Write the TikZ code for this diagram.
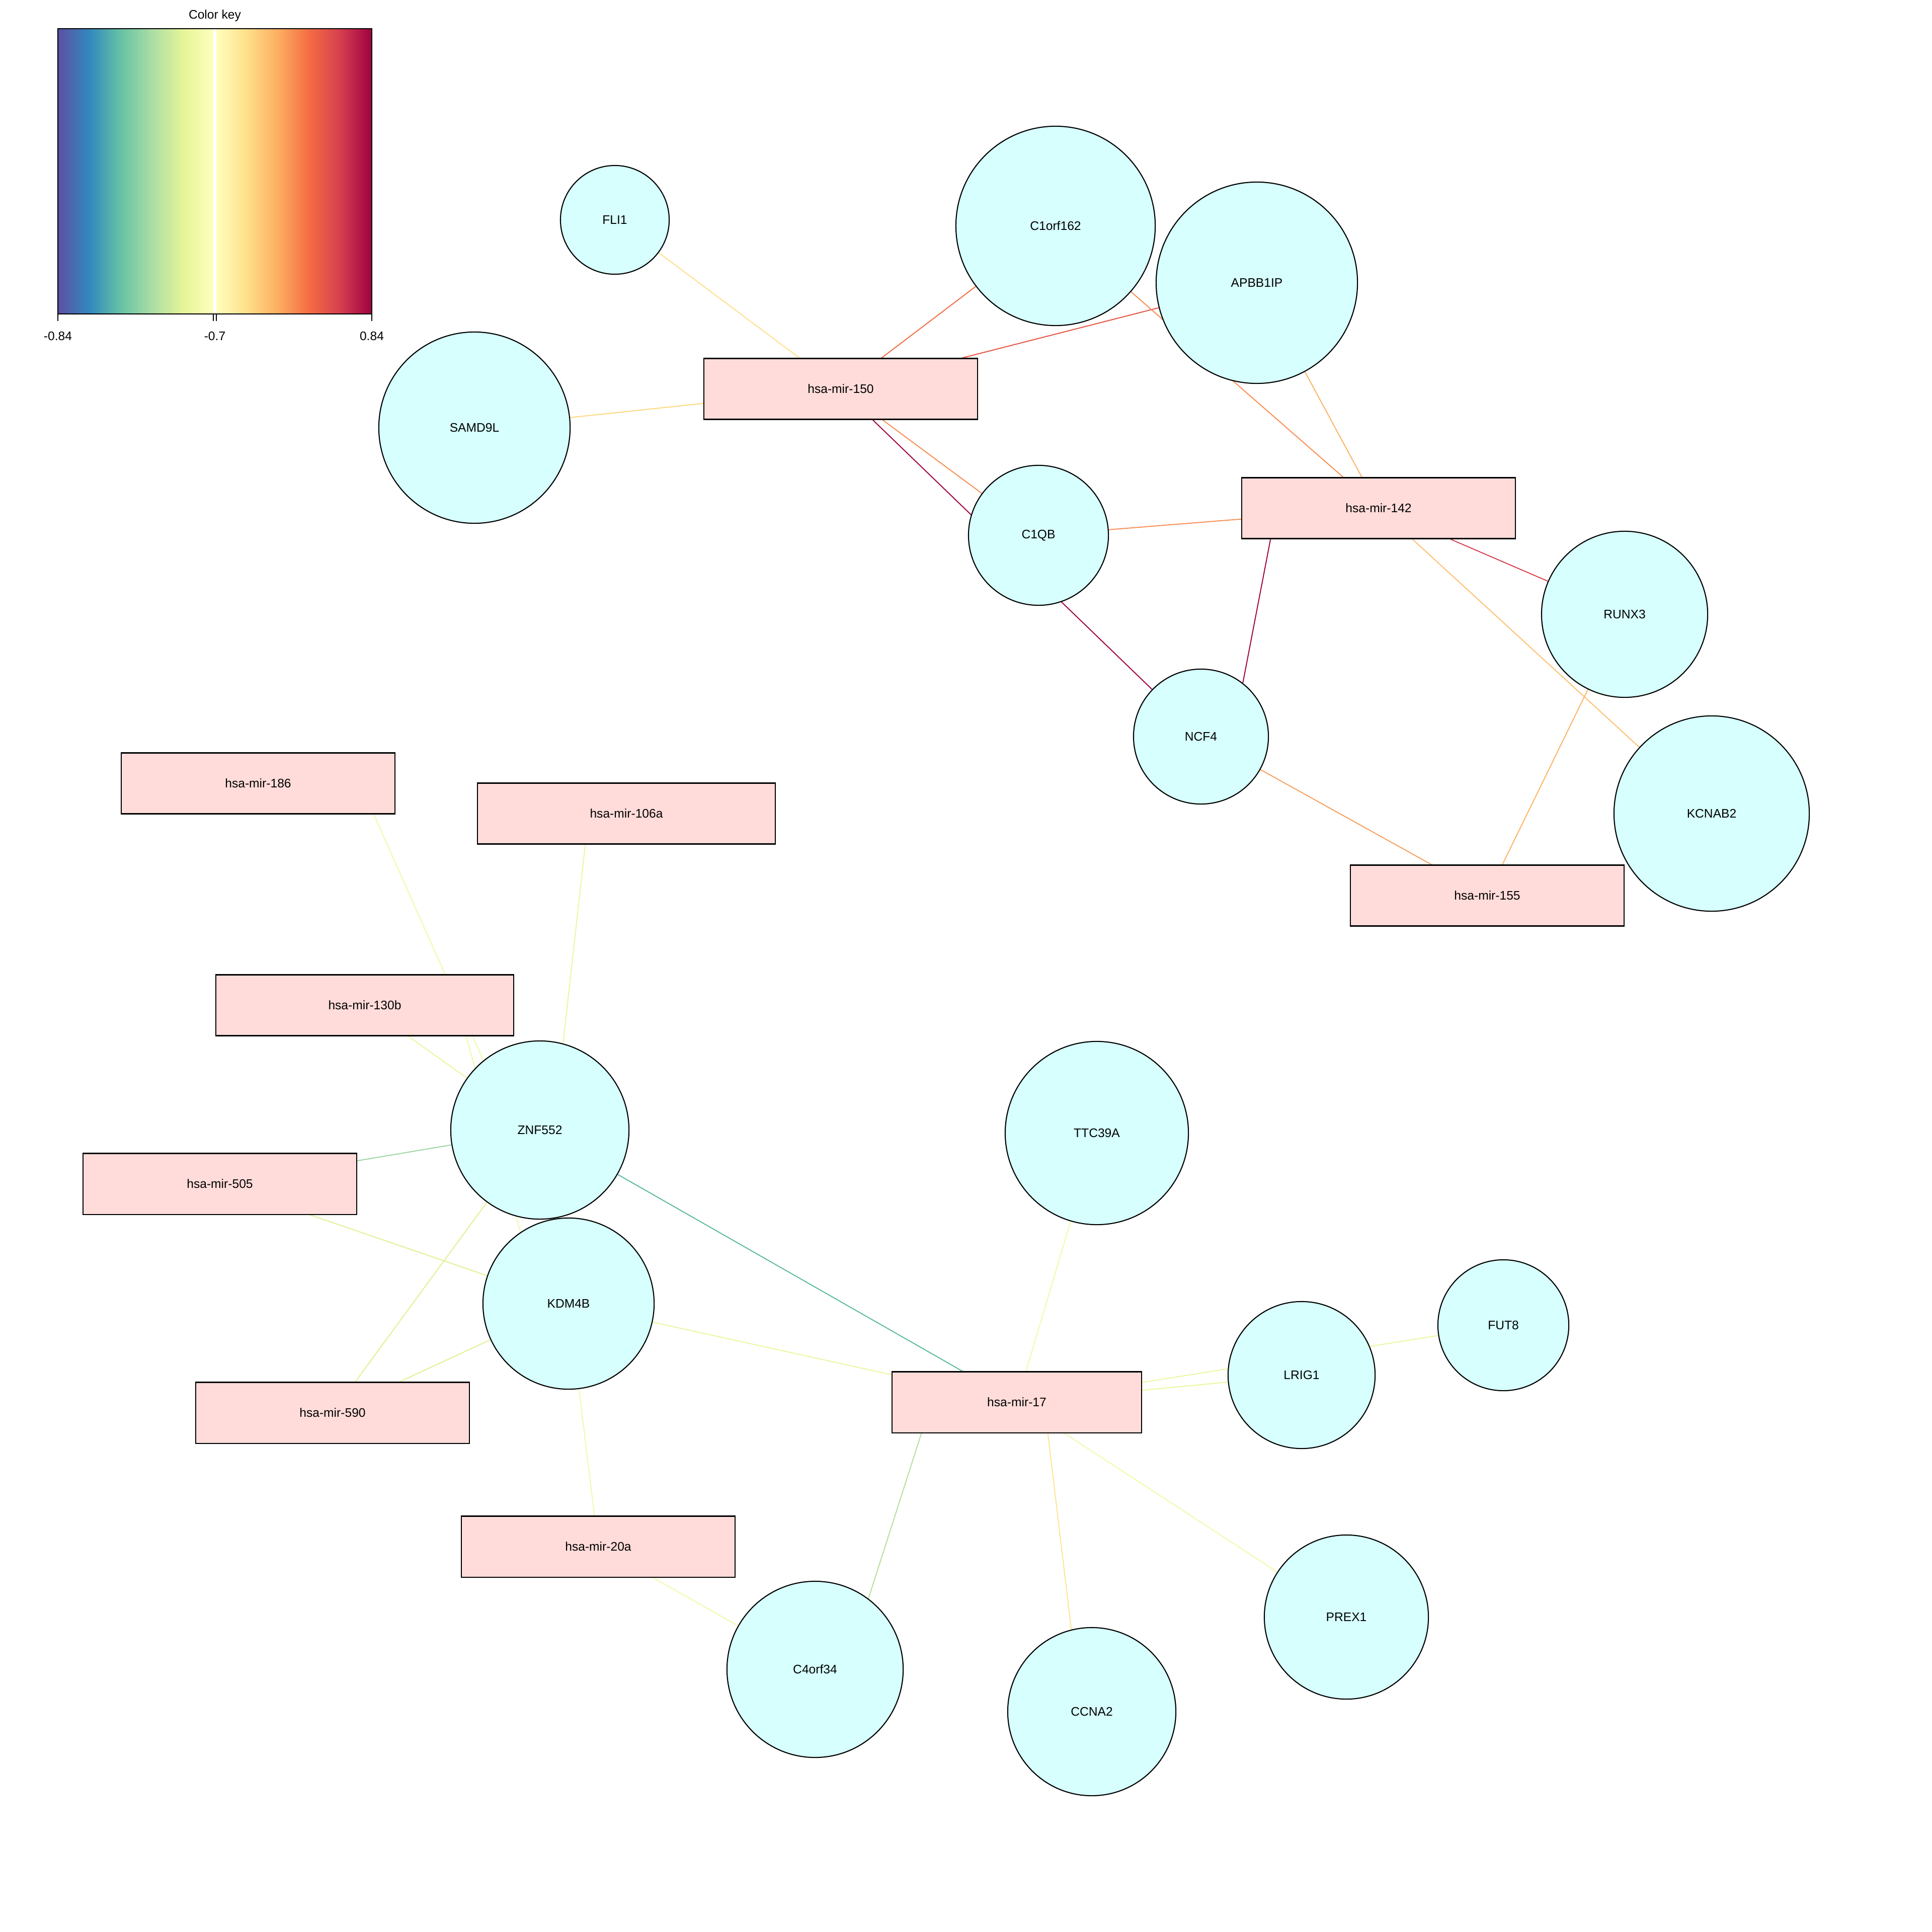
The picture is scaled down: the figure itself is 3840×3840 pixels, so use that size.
\documentclass[tikz,border=0pt]{standalone}
\usepackage{fontspec}
\setmainfont{Liberation Sans}
\usetikzlibrary{calc}
\definecolor{gencel}{HTML}{D6FFFE}
\definecolor{mirrosa}{HTML}{FFDCDA}
\definecolor{sp1}{HTML}{5E4FA2}
\definecolor{sp2}{HTML}{3288BD}
\definecolor{sp3}{HTML}{66C2A5}
\definecolor{sp4}{HTML}{ABDDA4}
\definecolor{sp5}{HTML}{E6F598}
\definecolor{sp6}{HTML}{FFFFBF}
\definecolor{sp7}{HTML}{FEE08B}
\definecolor{sp8}{HTML}{FDAE61}
\definecolor{sp9}{HTML}{F46D43}
\definecolor{sp10}{HTML}{D53E4F}
\definecolor{sp11}{HTML}{9E0142}
\definecolor{vino}{HTML}{9E0142}
\definecolor{rojo}{HTML}{D8404D}
\definecolor{rojonar}{HTML}{E9513D}
\definecolor{naranja}{HTML}{F26B43}
\definecolor{naranja2}{HTML}{F88D52}
\definecolor{albar}{HTML}{FA9F5A}
\definecolor{ocre}{HTML}{FDB365}
\definecolor{melon}{HTML}{FDC070}
\definecolor{oro}{HTML}{FDD87C}
\definecolor{arena}{HTML}{FEE08B}
\definecolor{crema}{HTML}{FEE38E}
\definecolor{paja}{HTML}{F2F9AA}
\definecolor{limon}{HTML}{EBF69E}
\definecolor{lima}{HTML}{DFF193}
\definecolor{verdecl}{HTML}{B3DF9C}
\definecolor{verde}{HTML}{9AD5A4}
\definecolor{turq}{HTML}{5DB8A0}
\pgfdeclarehorizontalshading{spectral}{100bp}{color(0bp)=(sp1); color(25bp)=(sp1);
  color(30bp)=(sp2); color(35bp)=(sp3); color(40bp)=(sp4); color(45bp)=(sp5);
  color(50bp)=(sp6); color(55bp)=(sp7); color(60bp)=(sp8); color(65bp)=(sp9);
  color(70bp)=(sp10); color(75bp)=(sp11); color(100bp)=(sp11)}
\pgfdeclarelayer{fondo}
\pgfsetlayers{fondo,main}
\tikzset{
  gen/.style={circle, draw=black, fill=gencel, line width=0.6pt, inner sep=0pt},
  mir/.style={rectangle, draw=black, fill=mirrosa, line width=0.6pt, inner sep=0pt,
              minimum width=5.43cm, minimum height=1.21cm},
  lnk/.style={line width=0.55pt},
  rotulo/.style={inner sep=0pt}
}

\begin{document}
\begin{tikzpicture}[x=0.01cm, y=-0.01cm, font=\fontsize{7}{8.4}\selectfont]
  \useasboundingbox (0,0) rectangle (3840,3840);
  \shade [shading=spectral] (115,57) rectangle (739,624);
  \draw [white, line width=1.7pt] (427,57) -- (427,624);
  \draw [line width=0.6pt] (115,57) rectangle (739,624);
  \foreach \x in {115,424,430,739} \draw [line width=0.6pt] (\x,624) -- (\x,638);
  \node (keytit) [rotulo] at (427,31) {Color key};
  \node (keylo) [rotulo] at (115,668) {-0.84};
  \node (keymid) [rotulo] at (427,668) {-0.7};
  \node (keyhi) [rotulo] at (739,668) {0.84};
  \node (fli1) [gen, minimum size=2.16cm] at (1222,437) {FLI1};
  \node (c1orf) [gen, minimum size=3.96cm] at (2098,449) {C1orf162};
  \node (apbb) [gen, minimum size=4.0cm] at (2498,562) {APBB1IP};
  \node (samd) [gen, minimum size=3.8cm] at (943,850) {SAMD9L};
  \node (c1qb) [gen, minimum size=2.78cm] at (2064,1064) {C1QB};
  \node (runx) [gen, minimum size=3.3cm] at (3229,1221) {RUNX3};
  \node (ncf4) [gen, minimum size=2.68cm] at (2387,1464) {NCF4};
  \node (kcnab) [gen, minimum size=3.88cm] at (3402,1617) {KCNAB2};
  \node (znf) [gen, minimum size=3.54cm] at (1073,2246) {ZNF552};
  \node (kdm) [gen, minimum size=3.4cm] at (1130,2591) {KDM4B};
  \node (ttc) [gen, minimum size=3.64cm] at (2180,2252) {TTC39A};
  \node (fut8) [gen, minimum size=2.6cm] at (2988,2634) {FUT8};
  \node (lrig) [gen, minimum size=2.92cm] at (2587,2733) {LRIG1};
  \node (c4orf) [gen, minimum size=3.5cm] at (1620,3318) {C4orf34};
  \node (ccna) [gen, minimum size=3.34cm] at (2170,3402) {CCNA2};
  \node (prex) [gen, minimum size=3.26cm] at (2676,3214) {PREX1};
  \node (m150) [mir] at (1671,773) {hsa-mir-150};
  \node (m142) [mir] at (2740,1010) {hsa-mir-142};
  \node (m155) [mir] at (2956,1780) {hsa-mir-155};
  \node (m186) [mir] at (513,1557) {hsa-mir-186};
  \node (m106a) [mir, minimum width=5.91cm] at (1245,1617) {hsa-mir-106a};
  \node (m130b) [mir, minimum width=5.91cm] at (725,1998) {hsa-mir-130b};
  \node (m505) [mir] at (437,2353) {hsa-mir-505};
  \node (m590) [mir] at (661,2808) {hsa-mir-590};
  \node (m17) [mir, minimum width=4.96cm] at (2021,2787) {hsa-mir-17};
  \node (m20a) [mir] at (1189,3074) {hsa-mir-20a};
  \begin{pgfonlayer}{fondo}
    \draw [lnk, arena] (fli1) -- (m150);
    \draw [lnk, naranja] (c1orf) -- (m150);
    \draw [lnk, rojonar] (apbb) -- (m150);
    \draw [lnk, oro] (samd) -- (m150);
    \draw [lnk, vino] (m150) -- (ncf4);
    \draw [lnk, naranja2] (m150) -- (c1qb);
    \draw [lnk, naranja2] (c1orf) -- (m142);
    \draw [lnk, ocre] (apbb) -- (m142);
    \draw [lnk, naranja2] (c1qb) -- (m142);
    \draw [lnk, vino] (m142.-164) -- (ncf4.52);
    \draw [lnk, rojo] (m142) -- (runx);
    \draw [lnk, melon] (m142) -- (kcnab);
    \draw [lnk, ocre] (runx) -- (m155);
    \draw [lnk, albar] (ncf4) -- (m155);
    \draw [lnk, paja] (m186.-15) -- (znf.129);
    \draw [lnk, limon] (m130b) -- (znf);
    \draw [lnk, paja] (m130b.-17) -- (kdm.124);
    \draw [lnk, limon] (m106a.-143) -- (znf.75);
    \draw [lnk, verde] (m505) -- (znf);
    \draw [lnk, lima] (m505) -- (kdm);
    \draw [lnk, lima] (znf) -- (m590);
    \draw [lnk, lima] (kdm) -- (m590);
    \draw [lnk, turq] (znf) -- (m17);
    \draw [lnk, limon] (kdm) -- (m17);
    \draw [lnk, paja] (kdm) -- (m20a);
    \draw [lnk, paja] (m20a) -- (c4orf);
    \draw [lnk, paja] (ttc) -- (m17);
    \draw [lnk, limon] (m17) -- (lrig);
    \draw [lnk, limon] (m17) -- (fut8);
    \draw [lnk, verdecl] (m17.-162) -- (c4orf.53);
    \draw [lnk, crema] (m17.-45) -- (ccna.104);
    \draw [lnk, paja] (m17) -- (prex);
  \end{pgfonlayer}
\end{tikzpicture}
\end{document}
